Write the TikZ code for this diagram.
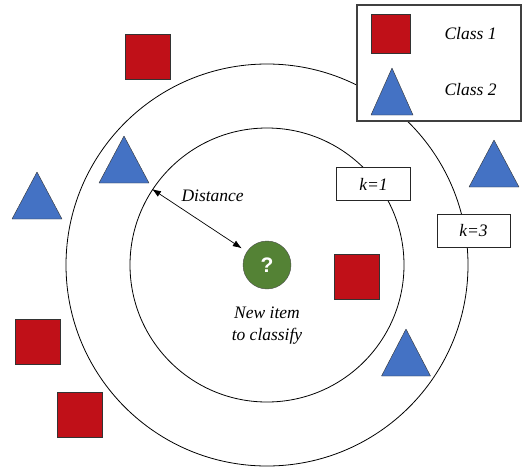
\documentclass[tikz,border=0pt]{standalone}
\usepackage{fontspec}
\setmainfont{Liberation Serif}
\setsansfont{Liberation Sans}
\newfontfamily\timesit[ItalicFont={Liberation Serif Italic}]{Liberation Serif}
\usepackage{xcolor}
\usepackage{tikz}
\usetikzlibrary{arrows.meta}

\definecolor{classred}{RGB}{192,16,24}
\definecolor{classblue}{RGB}{68,114,196}
\definecolor{itemgreen}{RGB}{84,130,53}

\tikzset{
  lbl/.style={font=\fontsize{17.5}{22}\timesit\itshape\selectfont},
  sq/.style={draw=black!80, fill=classred, minimum size=45pt, inner sep=0pt},
  tri/.style={draw=black!80, fill=classblue, line join=round},
  kbox/.style={draw=black!85, fill=white, line width=0.8pt, minimum width=74pt, minimum height=33pt, lbl}
}
% one triangle, apex at (#2,#3)
\newcommand{\classtri}[3][50]{\filldraw[tri] (#2,#3) -- ++(-#1/2,47) -- ++(#1,0) -- cycle;}

\begin{document}
\begin{tikzpicture}[x=1pt,y=-1pt]
\useasboundingbox (0,0) rectangle (524,469);
\coordinate (c) at (267,265);
\draw[line width=0.8pt] (c) circle (201);
\draw[line width=0.8pt] (c) circle (137);
\node[circle, draw=black!70, fill=itemgreen, minimum size=48pt, inner sep=0pt,
  font=\fontsize{21}{24}\selectfont\sffamily\bfseries, text=white] (q) at (c) {?};
\node[lbl, align=center] (qtxt) at (267,326) {New item\\to classify};
% squares
\node[sq] (s1) at (148,57) {};
\node[sq] (s2) at (357,277) {};
\node[sq] (s3) at (38,342) {};
\node[sq] (s4) at (80,415) {};
% triangles
\classtri{124}{136}
\classtri{37}{172}
\classtri{494}{140}
\classtri[49]{406}{329}
% distance
\coordinate (d) at (152,189);
\draw[{Latex[length=9pt,width=6.5pt]}-{Latex[length=9pt,width=6.5pt]}, line width=0.7pt, shorten >=6pt] (d) -- (q);
\node[lbl, anchor=base west] (dist) at (178,201) {Distance};
% k labels
\node[kbox] (k1) at (373.5,184) {k=1};
\node[kbox, minimum width=73pt] (k3) at (473.5,230.5) {k=3};
% legend
\filldraw[draw=black!75, fill=white, line width=1.2pt] (357,5) rectangle (521,121);
\node[sq, minimum size=39pt] (ls) at (390.5,34) {};
\classtri[42]{392}{68}
\node[lbl, anchor=base west] (l1) at (441,39) {Class 1};
\node[lbl, anchor=base west] (l2) at (441,95) {Class 2};
\end{tikzpicture}
\end{document}
